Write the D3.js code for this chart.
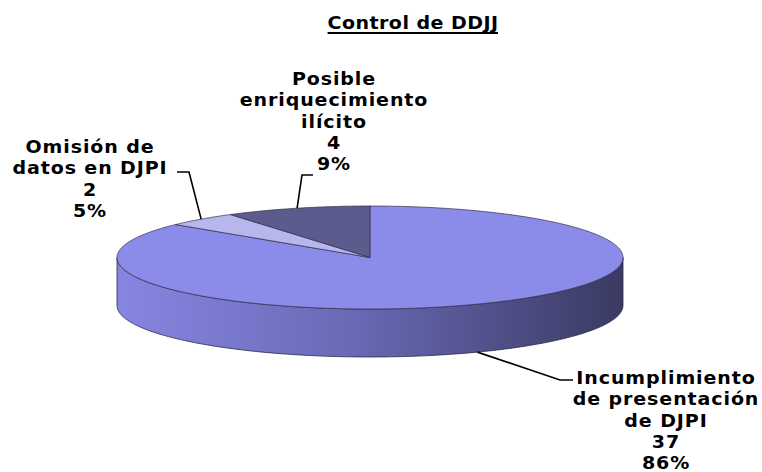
<!DOCTYPE html>
<html>
<head>
<meta charset="utf-8">
<script src="https://cdn.jsdelivr.net/npm/d3@7/dist/d3.min.js"></script>
<style>
  body { margin: 0; background: #fff; }
  text { font-family: "DejaVu Sans", Verdana, sans-serif; font-weight: bold; fill: #000; }
</style>
</head>
<body>
<div id="chart"></div>
<script>
// datos del grafico
const title = "Control de DDJJ";
const categories = ["Incumplimiento de presentación de DJPI", "Omisión de datos en DJPI", "Posible enriquecimiento ilícito"];
const values = [37, 2, 4];
const labelLines = [
  ["Incumplimiento", "de presentación", "de DJPI"],
  ["Omisión de", "datos en DJPI"],
  ["Posible", "enriquecimiento", "ilícito"]
];

// estilo / layout
const width = 762, height = 472;
const sliceColors = ["#8b8be9", "#b7b7ee", "#5b5b8d"];
const cx = 370, cy = 257.5, rx = 253, ry = 51.5, depth = 48;
const lineH = 21.3;
const stretch = 1.12;
const labelPos = [
  {x: 666, y: 384, elbow: [[573, 380], [560, 380]]},
  {x: 90,  y: 153, elbow: [[177, 172], [189, 172]]},
  {x: 334, y: 85,  elbow: [[313, 175], [302, 175]]}
];

const svg = d3.select("#chart").append("svg")
  .attr("width", width)
  .attr("height", height);

const defs = svg.append("defs");
const grad = defs.append("linearGradient")
  .attr("id", "sideGrad")
  .attr("gradientUnits", "userSpaceOnUse")
  .attr("x1", cx - rx).attr("x2", cx + rx)
  .attr("y1", 0).attr("y2", 0);
grad.append("stop").attr("offset", "0").attr("stop-color", "#8686e2");
grad.append("stop").attr("offset", "0.45").attr("stop-color", "#6a6ab8");
grad.append("stop").attr("offset", "1").attr("stop-color", "#3a3a62");

// punto sobre la elipse, angulo en sentido horario desde las 12
const pt = (a, dy = 0) => [cx + rx * Math.sin(a), cy - ry * Math.cos(a) + dy];

const arcPts = (a0, a1, dy = 0) => {
  const n = Math.max(2, Math.ceil(Math.abs(a1 - a0) * 80));
  return d3.range(n + 1).map(i => pt(a0 + (a1 - a0) * i / n, dy));
};

const pie = d3.pie().sort(null).value(d => d);
const arcs = pie(values);
const total = d3.sum(values);
const pct = d3.format(".0%");

// lados (solo la parte frontal)
const side = svg.append("g");
arcs.forEach((s, i) => {
  const a0 = Math.max(s.startAngle, Math.PI / 2);
  const a1 = Math.min(s.endAngle, 3 * Math.PI / 2);
  if (a0 >= a1) return;
  const top = arcPts(a0, a1);
  const bot = arcPts(a1, a0, depth);
  side.append("path")
    .attr("d", "M" + top.concat(bot).map(p => p.join(",")).join("L") + "Z")
    .attr("fill", i === 0 ? "url(#sideGrad)" : d3.color(sliceColors[i]).darker(0.8))
    .attr("stroke", "#2a2a40")
    .attr("stroke-width", 0.8);
});

// caras superiores
const topG = svg.append("g");
arcs.forEach((s, i) => {
  const p = arcPts(s.startAngle, s.endAngle);
  topG.append("path")
    .attr("d", "M" + cx + "," + cy + "L" + p.map(q => q.join(",")).join("L") + "Z")
    .attr("fill", sliceColors[i])
    .attr("stroke", "#2f2f4a")
    .attr("stroke-width", 0.7)
    .attr("stroke-linejoin", "round");
});

// lineas guia
const lead = svg.append("g");
arcs.forEach((s, i) => {
  const mid = (s.startAngle + s.endAngle) / 2;
  const front = Math.cos(mid) < 0;
  const anchor = pt(mid, front ? depth : 0);
  const pts = labelPos[i].elbow.concat([anchor]);
  lead.append("path")
    .attr("d", d3.line()(pts))
    .attr("fill", "none")
    .attr("stroke", "#000")
    .attr("stroke-width", 1.6);
});

// etiquetas (texto algo ensanchado como en el original)
arcs.forEach((s, i) => {
  const lines = labelLines[i].concat([String(values[i]), pct(values[i] / total)]);
  const g = svg.append("g")
    .attr("transform", `translate(${labelPos[i].x},${labelPos[i].y}) scale(${stretch},1)`);
  const t = g.append("text")
    .attr("text-anchor", "middle")
    .attr("font-size", 17)
    .attr("letter-spacing", 0.8);
  lines.forEach((l, j) => {
    t.append("tspan")
      .attr("x", 0)
      .attr("y", j * lineH)
      .text(l);
  });
});

// titulo subrayado
const tg = svg.append("g")
  .attr("transform", `translate(413,29) scale(${stretch},1)`);
const tt = tg.append("text")
  .attr("text-anchor", "middle")
  .attr("font-size", 17)
  .attr("letter-spacing", 0.4)
  .text(title);
const bb = tt.node().getBBox();
tg.append("line")
  .attr("x1", bb.x).attr("x2", bb.x + bb.width - 0.4)
  .attr("y1", 4).attr("y2", 4)
  .attr("stroke", "#000")
  .attr("stroke-width", 2);
</script>
</body>
</html>
